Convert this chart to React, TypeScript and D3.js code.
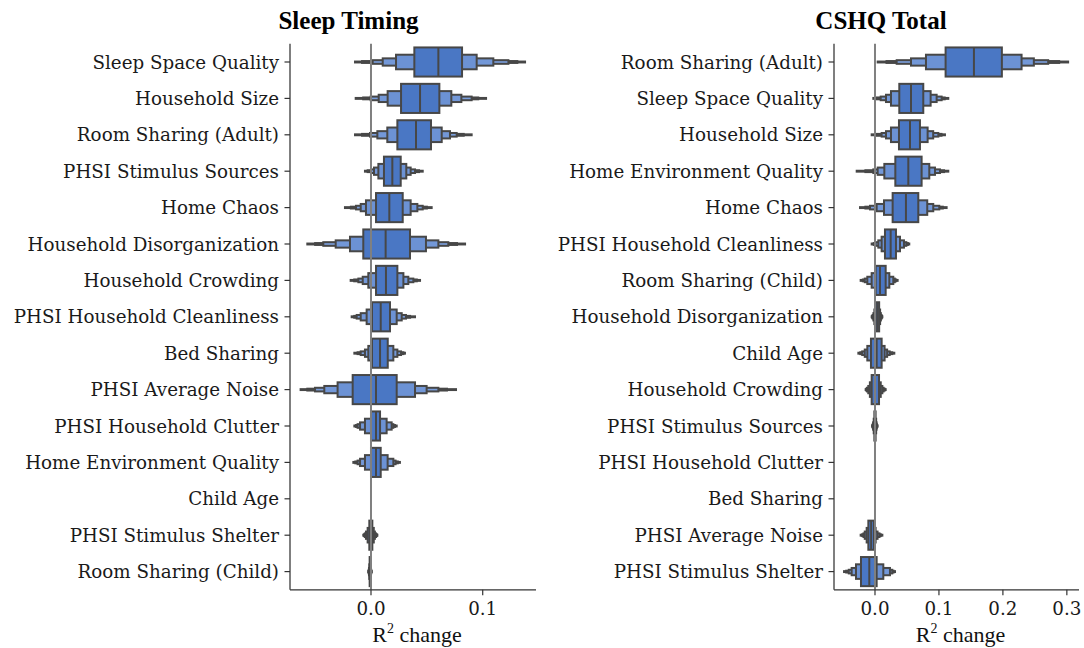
import React from "react";
import * as d3 from "d3";

// ---------- Sleep Timing ----------
const timingLabels = [
  "Sleep Space Quality", "Household Size", "Room Sharing (Adult)", "PHSI Stimulus Sources",
  "Home Chaos", "Household Disorganization", "Household Crowding", "PHSI Household Cleanliness",
  "Bed Sharing", "PHSI Average Noise", "PHSI Household Clutter", "Home Environment Quality",
  "Child Age", "PHSI Stimulus Shelter", "Room Sharing (Child)",
];
const timingMedian = [0.0603, 0.0439, 0.0403, 0.0191, 0.0164, 0.0131, 0.0134, 0.0087, 0.0081, 0.0045, 0.0045, 0.0045, 0, 0, -0.0008];
const timingLo = [
  [0.0388, 0.0224, 0.0105, 0.0015, -0.008, -0.0143],
  [0.0269, 0.0149, 0.0069, -0.0003, -0.007, -0.0137],
  [0.0236, 0.0146, 0.0057, -0.0009, -0.008, -0.0143],
  [0.0116, 0.0066, 0.0027, 0.0, -0.003, -0.0054],
  [0.0045, -0.0045, -0.0092, -0.0134, -0.018, -0.0233],
  [-0.0069, -0.0188, -0.0316, -0.0427, -0.05, -0.057],
  [0.0045, -0.0024, -0.0074, -0.0113, -0.015, -0.0182],
  [0.0009, -0.0039, -0.0092, -0.0128, -0.015, -0.0173],
  [0.0009, -0.0024, -0.0054, -0.0092, -0.012, -0.0149],
  [-0.0164, -0.0299, -0.0418, -0.0501, -0.057, -0.063],
  [0.0, -0.0054, -0.0098, -0.012, -0.0135, -0.0149],
  [0.0, -0.0054, -0.0098, -0.012, -0.014, -0.0158],
  [0, 0, 0, 0, 0, 0],
  [-0.0015, -0.003, -0.0045, -0.0055, -0.0062, -0.0069],
  [-0.0012, -0.0015, -0.0018, -0.002, -0.0022, -0.0024],
];
const timingHi = [
  [0.0815, 0.0946, 0.1095, 0.123, 0.131, 0.1379],
  [0.0612, 0.0719, 0.0809, 0.0901, 0.096, 0.103],
  [0.0537, 0.0633, 0.0707, 0.0767, 0.083, 0.0901],
  [0.0266, 0.0316, 0.0355, 0.0394, 0.043, 0.0463],
  [0.0284, 0.0355, 0.0415, 0.0463, 0.05, 0.0543],
  [0.0349, 0.0492, 0.0603, 0.0692, 0.077, 0.0842],
  [0.0236, 0.029, 0.0334, 0.0379, 0.041, 0.0439],
  [0.017, 0.023, 0.0275, 0.0313, 0.035, 0.0394],
  [0.015, 0.02, 0.0236, 0.0269, 0.029, 0.0304],
  [0.023, 0.0394, 0.0498, 0.0603, 0.068, 0.0761],
  [0.0081, 0.014, 0.0185, 0.02, 0.0215, 0.023],
  [0.0087, 0.0149, 0.02, 0.022, 0.024, 0.0259],
  [0, 0, 0, 0, 0, 0],
  [0.0012, 0.0025, 0.0035, 0.0045, 0.0052, 0.0057],
  [-0.0004, -0.0002, 0, 0.0002, 0.0004, 0.0006],
];
const timingTicks = [0, 0.1];

// ---------- CSHQ Total ----------
const cshqLabels = [
  "Room Sharing (Adult)", "Sleep Space Quality", "Household Size", "Home Environment Quality",
  "Home Chaos", "PHSI Household Cleanliness", "Room Sharing (Child)", "Household Disorganization",
  "Child Age", "Household Crowding", "PHSI Stimulus Sources", "PHSI Household Clutter",
  "Bed Sharing", "PHSI Average Noise", "PHSI Stimulus Shelter",
];
const cshqMedian = [0.1547, 0.0563, 0.0547, 0.0521, 0.0484, 0.0245, 0.0078, 0.004, 0.0026, 0.0, 0, 0, 0, -0.006, -0.0089];
const cshqLo = [
  [0.1104, 0.0797, 0.0563, 0.0339, 0.018, 0.0042],
  [0.038, 0.025, 0.0172, 0.0089, 0.003, -0.0026],
  [0.0375, 0.025, 0.0172, 0.0104, 0.003, -0.0052],
  [0.0318, 0.0146, 0.0042, -0.0026, -0.015, -0.0286],
  [0.0276, 0.0141, 0.0026, -0.0078, -0.015, -0.0234],
  [0.0156, 0.0104, 0.0052, 0.001, -0.002, -0.0052],
  [0.001, -0.0052, -0.012, -0.016, -0.019, -0.0224],
  [0.0012, -0.001, -0.0025, -0.0037, -0.0045, -0.0052],
  [-0.0063, -0.012, -0.016, -0.02, -0.023, -0.026],
  [-0.0052, -0.008, -0.0105, -0.0125, -0.0137, -0.0146],
  [-0.001, -0.002, -0.003, -0.0035, -0.004, -0.0045],
  [0, 0, 0, 0, 0, 0],
  [0, 0, 0, 0, 0, 0],
  [-0.0104, -0.013, -0.016, -0.018, -0.02, -0.0224],
  [-0.0219, -0.0297, -0.0365, -0.041, -0.045, -0.0484],
];
const cshqHi = [
  [0.1984, 0.2292, 0.2484, 0.2708, 0.288, 0.302],
  [0.0755, 0.087, 0.0964, 0.1042, 0.109, 0.1146],
  [0.0703, 0.0823, 0.091, 0.099, 0.104, 0.1094],
  [0.0729, 0.0849, 0.0938, 0.1016, 0.108, 0.1146],
  [0.0677, 0.0817, 0.0911, 0.1005, 0.106, 0.112],
  [0.0328, 0.0391, 0.0453, 0.049, 0.0515, 0.0536],
  [0.0167, 0.0224, 0.0286, 0.031, 0.033, 0.0354],
  [0.0065, 0.008, 0.0092, 0.0102, 0.011, 0.0115],
  [0.0104, 0.015, 0.019, 0.023, 0.027, 0.0302],
  [0.0063, 0.009, 0.0115, 0.0135, 0.0152, 0.0167],
  [0.001, 0.0018, 0.0025, 0.003, 0.0035, 0.004],
  [0, 0, 0, 0, 0, 0],
  [0, 0, 0, 0, 0, 0],
  [-0.0016, 0.001, 0.004, 0.007, 0.009, 0.0115],
  [0.0026, 0.013, 0.0234, 0.027, 0.029, 0.0313],
];
const cshqTicks = [0, 0.1, 0.2, 0.3];

const levelColors = ["#4a77c4", "#6c92d4", "#7398d8", "#7a9edb", "#82a4dd", "#8aaadf"];
const EDGE = "#474747";
const LABEL_FONT = "'DejaVu Serif', serif";
const TIMES = "'Liberation Serif', 'Times New Roman', serif";

type PanelProps = {
  title: string; titleX: number; labels: string[]; median: number[]; lo: number[][]; hi: number[][];
  ticks: number[]; domain: [number, number]; x0: number; x1: number;
};

const Y0 = 43.8;
const Y1 = 589.8;

function Panel({ title, titleX, labels, median, lo, hi, ticks, domain, x0, x1 }: PanelProps) {
  const x = d3.scaleLinear().domain(domain).range([x0, x1]);
  const y = d3.scaleBand().domain(labels).range([Y0, Y1]).padding(0);
  const bw = y.bandwidth();
  const nLev = lo[0].length;
  return (
    <g>
      <text x={titleX} y={29} textAnchor="middle" fontFamily={TIMES} fontWeight="bold" fontSize={25} fill="#000">{title}</text>
      {labels.map((lab, i) => {
        const cy = (y(lab) as number) + bw / 2;
        const levels = d3.range(nLev - 1, -1, -1);
        return (
          <g key={lab}>
            {levels.map((k) => {
              const h = 0.8 * bw * Math.pow(2, -k);
              const a = x(lo[i][k]);
              const b = x(hi[i][k]);
              if (b - a <= 0) return null;
              return (
                <rect key={k} x={a} y={cy - h / 2} width={b - a} height={h}
                  fill={levelColors[k]} stroke={EDGE} strokeWidth={2} />
              );
            })}
            {hi[i][0] - lo[i][0] > 0 && (
              <line x1={x(median[i])} x2={x(median[i])} y1={cy - 0.4 * bw} y2={cy + 0.4 * bw} stroke={EDGE} strokeWidth={2} />
            )}
            <line x1={x0 - 5.5} x2={x0} y1={cy} y2={cy} stroke="#333" strokeWidth={1.2} />
            <text x={x0 - 11} y={cy} dy="0.36em" textAnchor="end" fontFamily={LABEL_FONT} fontSize={18.3} fill="#1a1a1a">{lab}</text>
          </g>
        );
      })}
      <line x1={x(0)} x2={x(0)} y1={Y0} y2={Y1} stroke="#808080" strokeWidth={2} />
      <line x1={x0} x2={x0} y1={Y0} y2={Y1} stroke="#333" strokeWidth={1.25} />
      <line x1={x0} x2={x1} y1={Y1} y2={Y1} stroke="#333" strokeWidth={1.25} />
      {ticks.map((t) => (
        <g key={t}>
          <line x1={x(t)} x2={x(t)} y1={Y1} y2={Y1 + 5.5} stroke="#333" strokeWidth={1.2} />
          <text x={x(t)} y={615} textAnchor="middle" fontFamily={LABEL_FONT} fontSize={18.3} fill="#1a1a1a">{d3.format(".1f")(t)}</text>
        </g>
      ))}
      <text x={(x0 + x1) / 2 + 4} y={642} textAnchor="middle" fontFamily={TIMES} fontSize={22} fill="#111">
        R<tspan fontSize={14} dy={-9}>2</tspan><tspan dy={9}> change</tspan>
      </text>
    </g>
  );
}

export default function App() {
  return (
    <svg width={1084} height={648} style={{ position: "absolute", left: 0, top: 0, background: "#fff" }}>
      <rect width={1084} height={648} fill="#fff" />
      <Panel title="Sleep Timing" titleX={348.5} labels={timingLabels} median={timingMedian} lo={timingLo} hi={timingHi}
        ticks={timingTicks} domain={[-0.0725, 0.1477]} x0={290} x1={536} />
      <Panel title="CSHQ Total" titleX={881} labels={cshqLabels} median={cshqMedian} lo={cshqLo} hi={cshqHi}
        ticks={cshqTicks} domain={[-0.0641, 0.319]} x0={834} x1={1079} />
    </svg>
  );
}
